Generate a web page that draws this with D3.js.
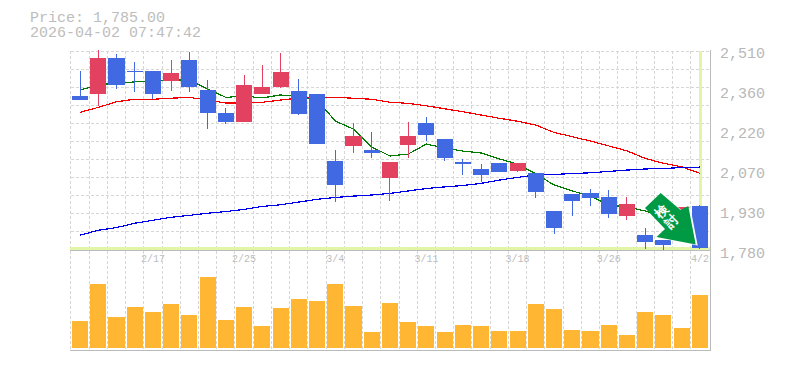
<!DOCTYPE html>
<html>
<head>
<meta charset="utf-8">
<script src="https://cdn.jsdelivr.net/npm/d3@7"></script>
<style>
html,body{margin:0;padding:0;background:#fff}
svg{display:block}
text{font-family:"Liberation Mono",monospace}
</style>
</head>
<body>
<div id="chart-area"></div>
<script>
// data
let dates = ["2/10","2/12","2/13","2/16","2/17","2/18","2/19","2/20","2/24","2/25","2/26","2/27","3/2","3/3","3/4","3/5","3/6","3/9","3/10","3/11","3/12","3/13","3/16","3/17","3/18","3/19","3/23","3/24","3/25","3/26","3/27","3/30","3/31","4/1","4/2"]
let labelDates = ["2/17","2/25","3/4","3/11","3/18","3/26","4/2"]
let priceLabels = ["2,510","2,360","2,220","2,070","1,930","1,780"]

let opens  = [2344,2351,2484,2436,2436,2399,2477,2366,2281,2248,2351,2377,2363,2351,2104,2160,2145,2042,2163,2245,2186,2101,2075,2097,2068,2060,1920,1983,1986,1972,1902,1832,1813,1857,1939]
let highs  = [2436,2514,2499,2469,2436,2477,2506,2403,2300,2422,2458,2503,2407,2351,2145,2245,2211,2101,2248,2267,2186,2112,2093,2097,2097,2060,1920,1983,2001,1998,1972,1857,1813,1935,1942]
let lows   = [2329,2307,2370,2359,2333,2363,2359,2222,2241,2248,2351,2374,2274,2167,1953,2134,2116,1957,2116,2178,2104,2053,2027,2064,2064,1968,1835,1902,1939,1894,1887,1780,1776,1832,1780]
let closes = [2329,2484,2385,2433,2351,2429,2377,2281,2248,2385,2377,2433,2278,2167,2016,2197,2134,2101,2197,2200,2116,2093,2053,2064,2097,1990,1857,1957,1968,1909,1946,1806,1795,1935,1785]

let maShort = [2366,2385,2392,2396,2398,2403,2403,2370,2339,2344,2337,2348,2342,2329,2252,2222,2156,2123,2130,2167,2152,2141,2134,2112,2093,2057,2016,1994,1975,1942,1935,1920,1900,1880,1865]
let maMid   = [2284,2302,2323,2332,2332,2336,2339,2329,2318,2318,2321,2329,2337,2339,2339,2336,2332,2321,2317,2308,2297,2286,2274,2262,2251,2237,2210,2194,2178,2160,2142,2114,2096,2083,2059]
let maLong  = [1831,1849,1859,1875,1886,1897,1904,1912,1918,1926,1937,1943,1953,1963,1970,1975,1979,1985,1994,2003,2009,2014,2022,2034,2044,2053,2055,2058,2061,2066,2071,2075,2077,2080,2082]

let volumes = [27,64,31,41,36,44,33,71,28,41,22,40,49,47,64,42,16,45,26,22,16,23,22,17,17,44,39,18,17,23,13,36,33,20,53]

let width = 785
let height = 370

const svg = d3.select("#chart-area")
    .append("svg")
    .attr("width",width)
    .attr("height",height)

let x = d3.scaleBand()
    .domain(d3.range(dates.length))
    .range([70.9,709])
    .paddingInner(0.12)
    .paddingOuter(0.06)

let y = d3.scaleLinear()
    .domain([1780,2510])
    .range([249,51])

let yLabels = d3.scalePoint()
    .domain(priceLabels)
    .range([53,253])

let v = d3.scaleLinear()
    .domain([0,71])
    .range([348,277])

const centre = i => x(i) + x.bandwidth()/2

// grid
let gridColor = "#d6d6d6"
let hGrid = d3.range(0,12).map(k => 1780 + k*730/11)
svg.append("g").selectAll("line")
    .data(hGrid)
    .enter().append("line")
    .attr("x1",71).attr("x2",710)
    .attr("y1",d => y(d)).attr("y2",d => y(d))
    .attr("stroke",gridColor).attr("stroke-width",1).attr("stroke-dasharray","3,2")
    .attr("shape-rendering","crispEdges")

svg.append("g").selectAll("line")
    .data(d3.range(dates.length))
    .enter().append("line")
    .attr("x1",d => x(d)-x.step()*0.06).attr("x2",d => x(d)-x.step()*0.06)
    .attr("y1",51).attr("y2",349)
    .attr("stroke",gridColor).attr("stroke-width",1).attr("stroke-dasharray","3,2")
    .attr("shape-rendering","crispEdges")

// current day / current price highlight
svg.append("rect").attr("x",699).attr("y",51).attr("width",3).attr("height",198).attr("fill","#e2f5a6")
svg.append("rect").attr("x",70).attr("y",247).attr("width",640).attr("height",3).attr("fill","#e2f5a6")

// frame
let frameColor = "#bbbbbb"
svg.append("line").attr("x1",710.5).attr("x2",710.5).attr("y1",50).attr("y2",351).attr("stroke",frameColor)
svg.append("line").attr("x1",70).attr("x2",711).attr("y1",250.5).attr("y2",250.5).attr("stroke",frameColor)
svg.append("line").attr("x1",70).attr("x2",711).attr("y1",350.5).attr("y2",350.5).attr("stroke",frameColor)

// volume
svg.append("g").selectAll("rect")
    .data(volumes)
    .enter().append("rect")
    .attr("x",(d,i) => x(i))
    .attr("y",d => v(d))
    .attr("width",x.bandwidth())
    .attr("height",d => v(0)-v(d))
    .attr("fill","#ffb733")
    .attr("shape-rendering","crispEdges")

// moving averages
function maLine(values,color){
    let line = d3.line()
        .x((d,i) => centre(i))
        .y(d => y(d))
    svg.append("path")
        .datum(values)
        .attr("d",line)
        .attr("fill","none")
        .attr("stroke",color)
        .attr("stroke-width",1.2)
        .attr("shape-rendering","crispEdges")
}
maLine(maShort,"#007a00")
maLine(maMid,"#f00000")
maLine(maLong,"#0000e6")

// candles, red goes up and blue goes down
const candleColor = i => closes[i] > opens[i] ? "#e2415f" : "#4169e1"
let candles = svg.append("g").selectAll("g")
    .data(dates)
    .enter().append("g")

candles.append("line")
    .attr("x1",(d,i) => centre(i)).attr("x2",(d,i) => centre(i))
    .attr("y1",(d,i) => y(highs[i])).attr("y2",(d,i) => y(lows[i]))
    .attr("stroke",(d,i) => candleColor(i))
    .attr("stroke-width",1)
    .attr("shape-rendering","crispEdges")

candles.append("rect")
    .attr("x",(d,i) => x(i))
    .attr("y",(d,i) => y(Math.max(opens[i],closes[i])))
    .attr("width",x.bandwidth())
    .attr("height",(d,i) => Math.max(1,Math.abs(y(opens[i])-y(closes[i]))))
    .attr("fill",(d,i) => candleColor(i))
    .attr("shape-rendering","crispEdges")

// axes
let xAxisCall = d3.axisBottom(x)
    .tickValues(labelDates.map(d => dates.indexOf(d)))
    .tickFormat(i => dates[i])
    .tickSize(0)
let xGroup = svg.append("g")
    .attr("transform","translate(0,252)")
    .call(xAxisCall)
xGroup.select(".domain").remove()
xGroup.selectAll("text")
    .attr("y",3)
    .attr("font-size","10px")
    .attr("font-family","Liberation Mono")
    .attr("fill","#bdbdbd")

let yAxisCall = d3.axisRight(yLabels).tickSize(0)
let yGroup = svg.append("g")
    .attr("transform","translate(717,0)")
    .call(yAxisCall)
yGroup.select(".domain").remove()
yGroup.selectAll("text")
    .attr("x",3)
    .attr("font-size","15px")
    .attr("font-family","Liberation Mono")
    .attr("fill","#b8b8b8")

// header
svg.append("text").attr("x",30).attr("y",22).attr("font-size","15px").attr("fill","#bdbdbd").text("Price: 1,785.00")
svg.append("text").attr("x",30).attr("y",37).attr("font-size","15px").attr("fill","#bdbdbd").text("2026-04-02 07:47:42")

// arrow badge
let arrowPts = [[660.7,193],[680.5,210],[688.3,206],[695.7,244.5],[656.5,237],[665,229],[645,208]]
svg.append("polygon")
    .attr("points",arrowPts.map(p => (p[0]+2)+","+(p[1]+1)).join(" "))
    .attr("fill","#fff")
svg.append("polygon")
    .attr("points",arrowPts.join(" "))
    .attr("fill","#009a44")
let badge = svg.append("g").attr("font-family","Noto Sans CJK JP").attr("font-weight","700").attr("font-size","13px").attr("fill","#fff").attr("text-anchor","middle")
badge.append("text").attr("transform","translate(664.5,214.5) rotate(-45)").text("検")
badge.append("text").attr("transform","translate(675,224.5) rotate(-45)").text("討")
</script>
</body>
</html>
